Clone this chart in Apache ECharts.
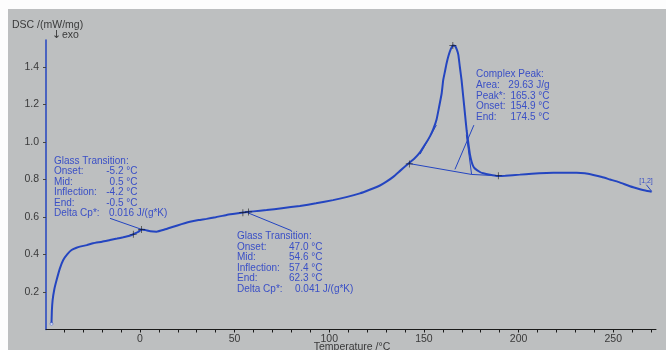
<!DOCTYPE html>
<html>
<head>
<meta charset="utf-8">
<script src="https://cdn.jsdelivr.net/npm/echarts@6/dist/echarts.min.js"></script>
<style>
  html, body { margin: 0; padding: 0; background: #fff; }
  #chart { width: 666px; height: 350px; }
</style>
</head>
<body>
<div id="chart"></div>
<script>
// DSC curve: temperature (°C) and heat flow (mW/mg)
const temps = [
  -46.7, -46.5, -46.1, -45.2, -44.0, -42.3, -40.5, -38.3, -36.1, -33.5, -31.7, -28, -24.7, -20,
  -15.8, -12, -8.8, -5.5, -3.5, -1, 0.9, 3, 5.5, 8.8, 13, 17.6, 22, 26.4, 31, 35.2, 40, 45.8,
  50, 55.5, 60, 66.9, 75, 84.5, 93, 102, 109, 116.2, 121, 126.8, 130, 133.8, 137.4, 141.7, 145,
  147.9, 150.5, 153.2, 155, 156.7, 158, 159.4, 160.2, 161, 162, 163, 164.2, 165.3, 166.5, 167.5,
  168.2, 169, 169.9, 170.8, 171.7, 172.6, 173.4, 174.3, 175.2, 176.1, 177, 179.6, 181.4, 184.9,
  188.4, 193, 200.7, 207, 214.8, 222, 230.7, 235, 239.5, 244, 248.3, 253, 257.1, 261, 264.1,
  267, 270.3
];
const heatFlow = [
  0.03, 0.10, 0.157, 0.215, 0.264, 0.325, 0.371, 0.402, 0.424, 0.436, 0.442, 0.45, 0.46, 0.468,
  0.477, 0.485, 0.492, 0.500, 0.508, 0.52, 0.534, 0.530, 0.524, 0.522, 0.533, 0.548, 0.562, 0.575,
  0.584, 0.59, 0.599, 0.611, 0.617, 0.625, 0.630, 0.637, 0.647, 0.659, 0.673, 0.69, 0.706, 0.726,
  0.744, 0.768, 0.787, 0.814, 0.846, 0.884, 0.912, 0.945, 0.985, 1.03, 1.07, 1.12, 1.185, 1.26,
  1.33, 1.37, 1.42, 1.46, 1.495, 1.515, 1.512, 1.49, 1.465, 1.40, 1.33, 1.24, 1.15, 1.06, 1.0,
  0.935, 0.895, 0.87, 0.858, 0.84, 0.833, 0.825, 0.819, 0.82, 0.826, 0.831, 0.835, 0.836, 0.836,
  0.833, 0.824, 0.813, 0.800, 0.786, 0.771, 0.757, 0.748, 0.741, 0.735
];

// evaluation marks (+) on the curve
const markTemps = [-3.5, 0.9, 54.4, 57.4, 142.3, 165.3, 189.3];
const markFlow = [0.508, 0.534, 0.623, 0.627, 0.883, 1.515, 0.82];

// construction / leader lines, each [[T, y], [T, y], ...]
const glass1Leader = [[-15.8, 0.593], [0.9, 0.534]];
const glass2Leader = [[56.4, 0.625], [80.1, 0.527]];
const peakLeader = [[166.4, 0.854], [176.4, 1.09]];
const peakBaseline = [[141.7, 0.886], [175.2, 0.827], [189.3, 0.82]];
const peakRightTangent = [[172.4, 1.04], [175.2, 0.827]];
const peakLeftTangent = [[148, 0.935], [156.6, 1.09]];
const rangeLeader = [[267.5, 0.772], [270.3, 0.737]];

// axis ticks
const xMinorTicks = [-40, -30, -20, -10, 0, 10, 20, 30, 40, 50, 60, 70, 80, 90, 100, 110, 120,
  130, 140, 150, 160, 170, 180, 190, 200, 210, 220, 230, 240, 250, 260, 270];
const xLabels = [0, 50, 100, 150, 200, 250];
const yLabels = [0.2, 0.4, 0.6, 0.8, 1.0, 1.2, 1.4];

// annotation text
const glass1Names = ['Onset:', 'Mid:', 'Inflection:', 'End:', 'Delta Cp*:'];
const glass1Values = ['-5.2 °C', '0.5 °C', '-4.2 °C', '-0.5 °C', '0.016 J/(g*K)'];
const glass2Names = ['Onset:', 'Mid:', 'Inflection:', 'End:', 'Delta Cp*:'];
const glass2Values = ['47.0 °C', '54.6 °C', '57.4 °C', '62.3 °C', '0.041 J/(g*K)'];
const peakNames = ['Area:', 'Peak*:', 'Onset:', 'End:'];
const peakValues = ['29.63 J/g', '165.3 °C', '154.9 °C', '174.5 °C'];

const FONT = 'Liberation Sans, Arial, sans-serif';
const BLUE = '#2445c0';
const NOTE = '#3a4fc6';
const AXIS_TEXT = '#3a3a3a';

const chart = echarts.init(document.getElementById('chart'));

const txt = (text, x, y, opts = {}) => ({
  type: 'text',
  z: 100,
  style: {
    text: text,
    x: x,
    y: y,
    fill: opts.fill || NOTE,
    font: (opts.size || 10) + 'px ' + (opts.family || FONT),
    textAlign: opts.align || 'left',
    textVerticalAlign: 'middle'
  }
});

// build an annotation block: title, names column, values column
const noteBlock = (title, names, values, x, y0, step, valueX, lastLeftX) => {
  const els = [txt(title, x, y0)];
  names.forEach((n, i) => {
    const y = y0 + step * (i + 1);
    els.push(txt(n, x, y));
    if (lastLeftX != null && i === names.length - 1) {
      els.push(txt(values[i], lastLeftX, y));
    } else {
      els.push(txt(values[i], valueX, y, { align: 'right' }));
    }
  });
  return els;
};

const graphics = [
  // white margins of the original screenshot
  { type: 'rect', shape: { x: 0, y: 0, width: 8, height: 350 }, style: { fill: '#fdfdfd' }, z: 50 },
  { type: 'rect', shape: { x: 0, y: 0, width: 666, height: 9 }, style: { fill: '#fdfdfd' }, z: 50 },
  txt('DSC /(mW/mg)', 12, 25, { fill: AXIS_TEXT, size: 10.5 }),
  txt('↓', 52, 35, { fill: AXIS_TEXT, size: 11, family: 'DejaVu Sans' }),
  txt('exo', 62, 35, { fill: AXIS_TEXT, size: 10.5 }),
  txt('Temperature /°C', 352, 347, { fill: AXIS_TEXT, size: 10.5, align: 'center' }),
  txt('[1,2]', 646, 181.5, { fill: NOTE, size: 7, align: 'center' })
]
  .concat(noteBlock('Glass Transition:', glass1Names, glass1Values, 54, 161, 10.45, 137.5, 109))
  .concat(noteBlock('Glass Transition:', glass2Names, glass2Values, 237, 236.7, 10.45, 322.5, 295))
  .concat(noteBlock('Complex Peak:', peakNames, peakValues, 476, 74.3, 10.75, 549.5, null));

const thinLine = (data) => ({
  type: 'line',
  data: data,
  showSymbol: false,
  silent: true,
  lineStyle: { color: BLUE, width: 1 },
  z: 3
});

const option = {
  backgroundColor: '#bdbfc0',
  animation: false,
  grid: { left: 46, right: 10, top: 40, bottom: 20.5 },
  xAxis: {
    type: 'value',
    min: -49.6,
    max: 272.6,
    axisLine: { onZero: false, lineStyle: { color: '#1a1a1a', width: 1 } },
    axisTick: { customValues: xMinorTicks, length: 3, lineStyle: { color: '#1a1a1a' } },
    axisLabel: {
      customValues: xLabels,
      margin: 4,
      color: AXIS_TEXT,
      fontSize: 10.5,
      fontFamily: FONT
    },
    splitLine: { show: false }
  },
  yAxis: {
    type: 'value',
    min: 0,
    max: 1.544,
    axisLine: { show: true, onZero: false, lineStyle: { color: BLUE, width: 1.5 } },
    axisTick: { show: true, customValues: yLabels, length: 3, lineStyle: { color: '#444' } },
    axisLabel: {
      customValues: yLabels,
      formatter: (v) => v.toFixed(1),
      margin: 7,
      color: AXIS_TEXT,
      fontSize: 10.5,
      fontFamily: FONT
    },
    splitLine: { show: false }
  },
  graphic: { elements: graphics },
  series: [
    {
      name: 'DSC',
      type: 'line',
      data: temps.map((t, i) => [t, heatFlow[i]]),
      showSymbol: false,
      smooth: 0.15,
      lineStyle: { color: BLUE, width: 2 },
      z: 4
    },
    thinLine(glass1Leader),
    thinLine(glass2Leader),
    thinLine(peakLeader),
    thinLine(peakBaseline),
    thinLine(peakRightTangent),
    thinLine(peakLeftTangent),
    thinLine(rangeLeader),
    {
      // start point of the measurement
      type: 'scatter',
      data: [[temps[0], heatFlow[0]]],
      symbol: 'circle',
      symbolSize: 3,
      itemStyle: { color: '#e8ecff', borderColor: BLUE, borderWidth: 0.5 },
      z: 5
    },
    {
      type: 'scatter',
      data: markTemps.map((t, i) => [t, markFlow[i]]),
      symbol: 'path://M4.5,0h1v10h-1zM0,4.5h10v1h-10z',
      symbolSize: 7,
      itemStyle: { color: '#111' },
      z: 6
    }
  ]
};

chart.setOption(option);
</script>
</body>
</html>
